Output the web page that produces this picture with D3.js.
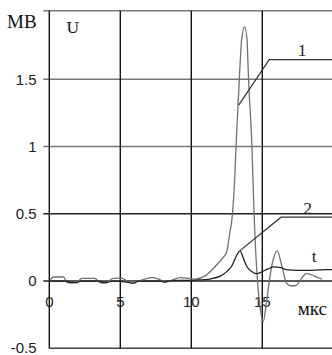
<!DOCTYPE html>
<html><head><meta charset="utf-8">
<script src="https://cdn.jsdelivr.net/npm/d3@7"></script>
<style>html,body{margin:0;padding:0;background:#fff;}svg{display:block;}</style>
</head><body>
<svg id="chart" width="332" height="355"></svg>
<script>
// ---- data ----
const xTicks = [0, 5, 10, 15];
const yTicks = [-0.5, 0, 0.5, 1, 1.5];
const yTickLabels = ["-0.5", "0", "0.5", "1", "1.5"];
const yTop = 2.01;

const curve1T = [0,0.3,1.0,1.25,1.9,2.3,3.2,3.6,4.0,4.5,5.1,5.6,6.0,6.6,7.2,7.7,8.15,8.6,9.2,9.7,10.3,11.0,11.7,12.2,12.5,12.7,12.9,13.05,13.15,13.38,13.55,13.75,13.92,14.03,14.27,14.42,14.66,14.85,15.07,15.3,15.66,16.05,16.4,16.7,17.0,17.37,17.7,18.1,18.5,18.9,19.2];
const curve1V = [0,0.03,0.03,-0.012,-0.012,0.02,0.02,-0.013,-0.013,0.02,0.022,-0.005,-0.008,0.01,0.025,0.015,-0.005,0.005,0.025,0.022,0.015,0.04,0.11,0.17,0.22,0.35,0.5,0.75,1.0,1.5,1.8,1.89,1.8,1.5,1.0,0.5,0.0,-0.2,-0.3,-0.15,0.11,0.225,0.1,-0.015,-0.035,-0.035,0.01,0.055,0.045,0.025,0.015];

const curve2T = [0,1.2,1.5,1.9,2.2,3.5,3.8,4.1,4.4,5.6,5.9,6.3,7.9,8.1,8.4,9.0,10.0,10.5,11.0,11.5,12.0,12.5,12.84,13.1,13.43,13.7,13.9,14.2,14.6,15.0,15.4,15.8,16.3,16.7,17.5,18.5,19.5,20.2];
const curve2V = [0,0,-0.012,-0.012,0,0,-0.012,-0.01,0,-0.01,-0.018,0,0,-0.01,0,0.005,0.005,0.008,0.01,0.02,0.035,0.07,0.11,0.17,0.225,0.16,0.11,0.075,0.055,0.07,0.09,0.105,0.1,0.085,0.08,0.08,0.085,0.085];

const labels = ["1", "2", "t"];
const labelT = [17.8, 18.2, 18.66];
const labelV = [1.67, 0.498, 0.141];
const leader1T = [13.34, 15.49, 20.2];
const leader1V = [1.308, 1.646, 1.646];
const leader2T = [13.43, 16.32, 20.2];
const leader2V = [0.226, 0.475, 0.475];

// ---- chart ----
const svg = d3.select("#chart");
const x = d3.scaleLinear().domain([0, 20]).range([49.3, 333.3]);
const y = d3.scaleLinear().domain([-0.5, yTop]).range([348.3, 10.7]);

const gridLeft = 43.3, gridRight = 332;
const sans = "'Liberation Sans', Arial, sans-serif";
const serif = "'Liberation Serif', 'Times New Roman', serif";

// y tick labels
svg.append("g").selectAll("text").data(yTicks).join("text")
  .attr("x", 36.5).attr("y", d => y(d) + (d === -0.5 ? 4.2 : 5.4))
  .attr("text-anchor", "end")
  .attr("font-family", sans).attr("font-size", 15).attr("fill", "#222")
  .text((d, i) => yTickLabels[i]);

// x tick labels
svg.append("g").selectAll("text").data(xTicks).join("text")
  .attr("x", d => x(d)).attr("y", 306.5)
  .attr("text-anchor", "middle")
  .attr("font-family", sans).attr("font-size", 15).attr("fill", "#222")
  .text(d => d);

// horizontal grid
const hLines = yTicks.concat([yTop]);
svg.append("g").selectAll("line").data(hLines).join("line")
  .attr("x1", d => d === -0.5 ? x(0) : gridLeft).attr("x2", gridRight)
  .attr("y1", d => y(d)).attr("y2", d => y(d))
  .attr("stroke", d => (d === 0 || d === 0.5) ? "#222" : (d === -0.5 ? "#444" : "#777"))
  .attr("stroke-width", 1.4);

// vertical grid
svg.append("g").selectAll("line").data(xTicks).join("line")
  .attr("x1", d => x(d)).attr("x2", d => x(d))
  .attr("y1", y(yTop)).attr("y2", y(-0.5))
  .attr("stroke", "#111").attr("stroke-width", 1.4);

// curves
const line = d3.line().x(d => x(d[0])).y(d => y(d[1])).curve(d3.curveMonotoneX);
const c1 = curve1T.map((t, i) => [t, curve1V[i]]);
const c2 = curve2T.map((t, i) => [t, curve2V[i]]);
svg.append("path").datum(c1).attr("d", line).attr("fill", "none")
  .attr("stroke", "#707070").attr("stroke-width", 1.3);
svg.append("path").datum(c2).attr("d", line).attr("fill", "none")
  .attr("stroke", "#222").attr("stroke-width", 1.3);

// leader lines
const straight = d3.line().x(d => x(d[0])).y(d => y(d[1]));
svg.append("path").datum(leader1T.map((t, i) => [t, leader1V[i]])).attr("d", straight)
  .attr("fill", "none").attr("stroke", "#333").attr("stroke-width", 1.2);
svg.append("path").datum(leader2T.map((t, i) => [t, leader2V[i]])).attr("d", straight)
  .attr("fill", "none").attr("stroke", "#333").attr("stroke-width", 1.2);

// curve labels
svg.append("g").selectAll("text").data(labels).join("text")
  .attr("x", (d, i) => x(labelT[i])).attr("y", (d, i) => y(labelV[i]))
  .attr("text-anchor", "middle")
  .attr("font-family", serif).attr("font-size", 17.5).attr("fill", "#222")
  .text(d => d);

// axis titles
svg.append("text").attr("x", 7).attr("y", 28.3)
  .attr("font-family", serif).attr("font-size", 19).attr("fill", "#111").text("МВ");
svg.append("text").attr("x", 66.5).attr("y", 33.3)
  .attr("font-family", serif).attr("font-size", 17.5).attr("fill", "#111").text("U");
svg.append("text").attr("x", 297.7).attr("y", 315)
  .attr("font-family", serif).attr("font-size", 19).attr("fill", "#111").text("мкс");
</script>
</body></html>
